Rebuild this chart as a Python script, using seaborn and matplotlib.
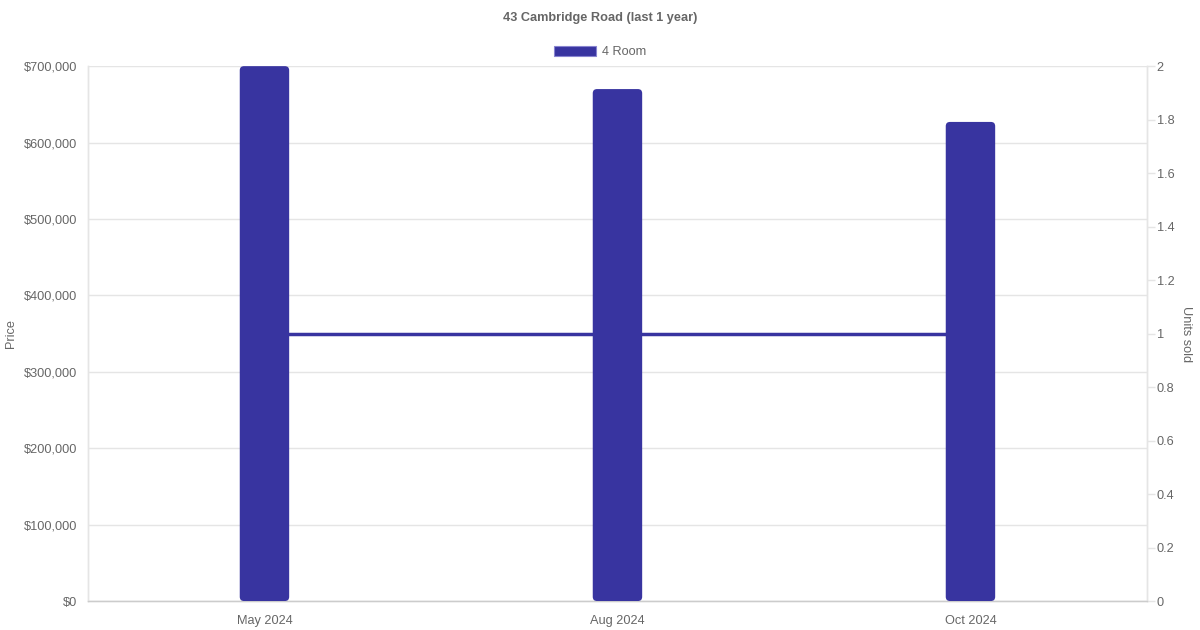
import numpy as np
import pandas as pd
import matplotlib
matplotlib.use("Agg")
import matplotlib.pyplot as plt
import matplotlib.ticker as mticker
from matplotlib.patches import Patch, FancyBboxPatch
import seaborn as sns

months = ["May 2024", "Aug 2024", "Oct 2024"]
prices = [700000, 670000, 627000]
units_sold = [1, 1, 1]
series_name = "4 Room"

bar_color = "#3834a0"
text_color = "#666666"
grid_color = "#e5e5e5"

sns.set_style("white")
plt.rcParams["font.family"] = ["Liberation Sans", "DejaVu Sans"]

df = pd.DataFrame({"month": months, "price": prices})

fig = plt.figure(figsize=(12, 6.3), dpi=100)
ax = fig.add_axes([0.0733, 0.046, 0.8825, 0.849])
ax2 = ax.twinx()

sns.barplot(data=df, x="month", y="price", color=bar_color, width=0.14,
            saturation=1, ax=ax, zorder=3)

# rounded tops on the bars
for p in list(ax.patches):
    x, y = p.get_x(), p.get_y()
    w, h = p.get_width(), p.get_height()
    fb = FancyBboxPatch((x, y), w, h, boxstyle="round,pad=0,rounding_size=0.012",
                        mutation_aspect=700000 / 535 * 353,
                        facecolor=bar_color, edgecolor="none", zorder=3)
    p.remove()
    ax.add_patch(fb)

sns.lineplot(x=np.arange(len(months)), y=units_sold, color=bar_color,
             linewidth=2.5, ax=ax2)

# bars drawn over the line
ax.set_zorder(ax2.get_zorder() + 1)
ax.patch.set_visible(False)

ax.set_xlim(-0.5, 2.5)
ax.set_ylim(0, 700000)
ax2.set_ylim(0, 2)
ax.set_yticks(np.arange(0, 700001, 100000))
ax2.set_yticks(np.arange(0, 2.01, 0.2))
ax.yaxis.set_major_formatter(mticker.FuncFormatter(lambda v, _: f"${v:,.0f}"))
ax2.yaxis.set_major_formatter(mticker.FuncFormatter(lambda v, _: f"{v:g}"))

ax.grid(axis="y", color=grid_color, linewidth=1, zorder=0)
ax.set_axisbelow(True)

for a in (ax, ax2):
    for s in a.spines.values():
        s.set_color(grid_color)
        s.set_linewidth(1)
    a.spines["top"].set_visible(False)
ax.spines["bottom"].set_color("#cccccc")

ax.tick_params(axis="y", colors=grid_color, labelcolor=text_color,
               labelsize=9.2, length=0, pad=8)
ax.tick_params(axis="x", labelcolor=text_color, labelsize=9.2, length=0, pad=10)
ax2.tick_params(axis="y", colors=grid_color, labelcolor=text_color,
                labelsize=9.2, length=6, width=1, pad=1)

ax.set_xlabel("")
ax.set_ylabel("Price", color=text_color, fontsize=9.2, va="center")
ax.yaxis.set_label_coords(-0.0727, 0.5)
ax2.set_ylabel("Units sold", color=text_color, fontsize=9.2, rotation=270,
               va="center")
ax2.yaxis.set_label_coords(1.0368, 0.5)

fig.text(0.5, 1 - 18 / 630, "43 Cambridge Road (last 1 year)", ha="center",
         va="center", fontsize=9.2, fontweight="bold", color=text_color)

handles = [Patch(facecolor=bar_color, edgecolor="#8884d0", linewidth=0.8)]
fig.legend(handles, [series_name], loc="center", bbox_to_anchor=(0.5, 1 - 52 / 630),
           frameon=False, fontsize=9.2, labelcolor=text_color,
           handlelength=3.3, handleheight=0.9, handletextpad=0.5)

fig.savefig("out.png", dpi=100)
